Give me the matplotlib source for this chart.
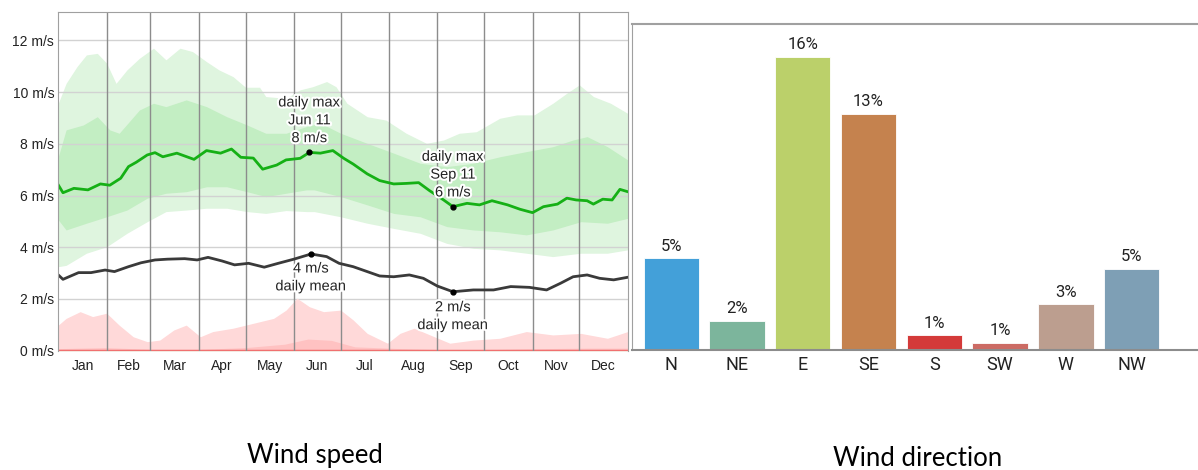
import matplotlib
matplotlib.use('Agg')
import matplotlib.pyplot as plt
import matplotlib.patheffects as pe

# ---- wind speed (day of year, m/s) ----
max_days = [0, 3, 10, 19, 27, 33, 40, 45, 50, 57, 62, 67, 76, 87, 95, 104, 111, 117, 125, 131,
            140, 146, 155, 161, 168, 176, 183, 189, 198, 206, 215, 223, 231, 238, 247, 253, 262,
            270, 278, 288, 296, 304, 311, 320, 326, 332, 339, 343, 349, 355, 360, 365]
max_mean = [6.41, 6.11, 6.28, 6.22, 6.45, 6.40, 6.67, 7.12, 7.29, 7.57, 7.66, 7.50, 7.64, 7.40,
            7.74, 7.64, 7.80, 7.48, 7.45, 7.02, 7.18, 7.38, 7.44, 7.67, 7.64, 7.74, 7.44, 7.22,
            6.84, 6.58, 6.45, 6.47, 6.50, 6.19, 5.83, 5.57, 5.70, 5.64, 5.80, 5.64, 5.47, 5.34,
            5.57, 5.67, 5.90, 5.83, 5.80, 5.67, 5.86, 5.83, 6.24, 6.15]

mean_days = [0, 3, 13, 21, 30, 36, 45, 53, 62, 70, 81, 89, 96, 105, 113, 122, 132, 141, 151, 162,
             172, 180, 189, 198, 206, 215, 225, 234, 243, 253, 266, 279, 290, 302, 313, 322, 330,
             339, 347, 356, 365]
daily_mean = [2.93, 2.76, 3.02, 3.02, 3.12, 3.06, 3.25, 3.40, 3.51, 3.54, 3.56, 3.51, 3.61, 3.47,
              3.32, 3.38, 3.23, 3.38, 3.54, 3.74, 3.64, 3.38, 3.25, 3.06, 2.89, 2.86, 2.93, 2.80,
              2.50, 2.28, 2.35, 2.35, 2.48, 2.45, 2.35, 2.61, 2.86, 2.93, 2.80, 2.74, 2.84]

p90_days = [0, 5, 12, 18, 25, 31, 37, 44, 52, 61, 69, 78, 86, 95, 103, 112, 120, 129, 133, 146,
            155, 163, 172, 178, 185, 198, 210, 223, 236, 247, 257, 268, 283, 294, 305, 317, 326,
            334, 343, 354, 365]
p90 = [9.57, 10.34, 10.99, 11.44, 11.50, 11.12, 10.34, 10.86, 11.31, 11.70, 11.25, 11.70, 11.57,
       11.18, 10.86, 10.60, 10.19, 10.19, 9.83, 9.76, 10.09, 10.21, 10.41, 10.21, 9.57, 9.05,
       8.92, 8.41, 8.02, 8.15, 8.41, 8.47, 8.99, 9.12, 9.12, 9.57, 9.96, 10.28, 9.83, 9.57, 9.18]

p75_days = [0, 5, 16, 25, 33, 39, 52, 61, 69, 82, 95, 108, 121, 133, 146, 159, 168, 181, 198,
            215, 232, 249, 266, 283, 300, 317, 330, 339, 352, 365]
p75 = [7.50, 8.54, 8.73, 9.05, 8.54, 8.41, 9.31, 9.57, 9.44, 9.70, 9.44, 9.05, 8.73, 8.41, 8.41,
       8.67, 8.80, 8.41, 8.02, 7.64, 7.25, 7.12, 7.25, 7.50, 7.70, 7.89, 8.15, 8.28, 7.89, 7.38]

low_days = [0, 5, 18, 31, 44, 57, 69, 82, 95, 108, 121, 133, 146, 159, 164, 181, 198, 215, 232,
            249, 266, 283, 300, 317, 335, 352, 365]
p25 = [5.06, 4.67, 4.93, 5.18, 5.44, 5.90, 6.09, 6.15, 6.34, 6.34, 6.15, 5.96, 6.09, 6.22, 6.22,
       5.96, 5.64, 5.31, 5.18, 4.80, 4.67, 4.60, 4.48, 4.67, 4.99, 4.93, 5.12]
p10 = [3.25, 3.30, 3.77, 4.02, 4.54, 4.99, 5.38, 5.44, 5.51, 5.51, 5.38, 5.31, 5.42, 5.38, 5.38,
       5.18, 4.93, 4.73, 4.54, 4.15, 3.96, 3.90, 3.77, 3.64, 3.77, 3.77, 3.90]

red_days = [0, 5, 14, 22, 31, 39, 48, 57, 65, 74, 82, 91, 99, 112, 125, 138, 146, 153, 161, 170,
            181, 189, 198, 211, 219, 228, 241, 251, 266, 283, 300, 317, 335, 352, 365]
min_hi = [0.99, 1.25, 1.51, 1.32, 1.45, 0.99, 0.54, 0.35, 0.41, 0.80, 0.99, 0.54, 0.74, 0.87,
          1.06, 1.25, 1.57, 2.03, 1.70, 1.51, 1.57, 1.19, 0.67, 0.29, 0.67, 0.87, 0.54, 0.29,
          0.41, 0.48, 0.74, 0.61, 0.67, 0.48, 0.74]
dark_days = [0, 30, 60, 90, 120, 145, 160, 175, 190, 220, 250, 280, 310, 340, 365]
min_lo = [0.08, 0.12, 0.05, 0.05, 0.12, 0.25, 0.45, 0.40, 0.15, 0.08, 0.03, 0.05, 0.08, 0.10, 0.10]

months = ['Jan', 'Feb', 'Mar', 'Apr', 'May', 'Jun', 'Jul', 'Aug', 'Sep', 'Oct', 'Nov', 'Dec']
month_edges = [0, 31, 59, 90, 120, 151, 181, 212, 243, 273, 304, 334, 365]
yticks = [0, 2, 4, 6, 8, 10, 12]

# ---- wind direction ----
directions = ['N', 'NE', 'E', 'SE', 'S', 'SW', 'W', 'NW']
dir_share = [5.0, 1.6, 16.0, 12.9, 0.8, 0.4, 2.5, 4.45]
dir_labels = ['5%', '2%', '16%', '13%', '1%', '1%', '3%', '5%']
dir_colors = ['#43a0d9', '#7cb59c', '#bbd06a', '#c5824e', '#d43a39', '#cc6b64', '#bc9e8f', '#7e9fb5']

W, H = 1198, 470
fig = plt.figure(figsize=(W / 100, H / 100), dpi=100)
arial = ['Liberation Sans', 'DejaVu Sans']

# ---------------- left: wind speed ----------------
ax = fig.add_axes([58.3 / W, (H - 350.7) / H, (627.7 - 58.3) / W, 338.7 / H])
ax.fill_between(p90_days, p90, [0] * len(p90_days), color='#dff5df', lw=0, zorder=1)
ax.fill_between(p75_days, p75, [0] * len(p75_days), color='#c3eec3', lw=0, zorder=2)
ax.fill_between(low_days, p25, [0] * len(low_days), color='#dff5df', lw=0, zorder=3)
ax.fill_between(low_days, p10, [0] * len(low_days), color='white', lw=0, zorder=4)
ax.fill_between(red_days, min_hi, [0] * len(red_days), color='#ffd9d9', lw=0, zorder=5)
ax.fill_between(dark_days, min_lo, [0] * len(dark_days), color='#ffc2c2', lw=0, zorder=6)
ax.axhline(0, color='#f07070', lw=2.5, zorder=7)

for yv in yticks[1:]:
    ax.axhline(yv, color='#d2d2d2', lw=1, zorder=4.5)
for d in month_edges[1:-1]:
    ax.axvline(d, color='#8c8c8c', lw=1, zorder=8)

ax.plot(max_days, max_mean, color='#15b015', lw=2, zorder=9)
ax.plot(mean_days, daily_mean, color='#3a3a3a', lw=2, zorder=9)

halo = [pe.withStroke(linewidth=3, foreground='white')]
ax.plot([161, 162, 253, 253], [7.67, 3.74, 5.57, 2.28], 'o', color='black', ms=3.5, zorder=10)
notes = [(161, 7.95, 'daily max\nJun 11\n8 m/s', 'bottom'),
         (162, 3.45, '4 m/s\ndaily mean', 'top'),
         (253, 5.85, 'daily max\nSep 11\n6 m/s', 'bottom'),
         (253, 1.95, '2 m/s\ndaily mean', 'top')]
for x, y, t, va in notes:
    ax.text(x, y, t, ha='center', va=va, fontsize=10.5, family=arial, color='#222222',
            linespacing=1.35, path_effects=halo, zorder=11)

ax.set_xlim(0, 365)
ax.set_ylim(0, 13.1)
ax.set_yticks(yticks)
ax.set_yticklabels([f'{v} m/s' for v in yticks], fontsize=10, family=arial, color='#222222')
mids = [(month_edges[i] + month_edges[i + 1]) / 2 for i in range(12)]
ax.set_xticks(mids)
ax.set_xticklabels(months, fontsize=10, family=arial, color='#222222')
ax.tick_params(length=0, pad=6)
ax.tick_params(axis='y', pad=3)
for s in ax.spines.values():
    s.set_color('#a0a0a0')
    s.set_zorder(12)
ax.spines['bottom'].set_visible(False)

# ---------------- right: wind direction ----------------
narrow = ['Liberation Sans Narrow', 'Roboto', 'DejaVu Sans']
ax2 = fig.add_axes([632 / W, (H - 350) / H, (W - 632) / W + 0.01, 326 / H])
xs = list(range(len(directions)))
ax2.bar(xs, dir_share, width=0.84, color=dir_colors, edgecolor='white', linewidth=0.6, zorder=2)
for x, v, lab in zip(xs, dir_share, dir_labels):
    ax2.text(x, v + 0.25, lab, ha='center', va='bottom', fontsize=12, family=narrow,
             stretch='condensed', color='#222222')
ax2.set_xlim(-0.595, 8.19)
ax2.set_ylim(0, 17.8)
ax2.set_yticks([])
ax2.set_xticks(xs)
ax2.set_xticklabels(directions, fontsize=13, family=narrow, stretch='condensed', color='#222222')
ax2.tick_params(length=0, pad=4)
ax2.spines['right'].set_visible(False)
ax2.spines['top'].set_color('#a0a0a0')
ax2.spines['left'].set_color('#a0a0a0')
ax2.spines['bottom'].set_color('#8c8c8c')
ax2.spines['bottom'].set_linewidth(1.5)
ax2.spines['top'].set_linewidth(1.5)

# captions
fig.text(315 / W, 1 - 455 / H, 'Wind speed', ha='center', va='center', fontsize=18.5,
         family=['Lato', 'DejaVu Sans'])
fig.text(918 / W, 1 - 458 / H, 'Wind direction', ha='center', va='center', fontsize=18.5,
         family=['Lato', 'DejaVu Sans'])

fig.savefig('out.png', dpi=100)
